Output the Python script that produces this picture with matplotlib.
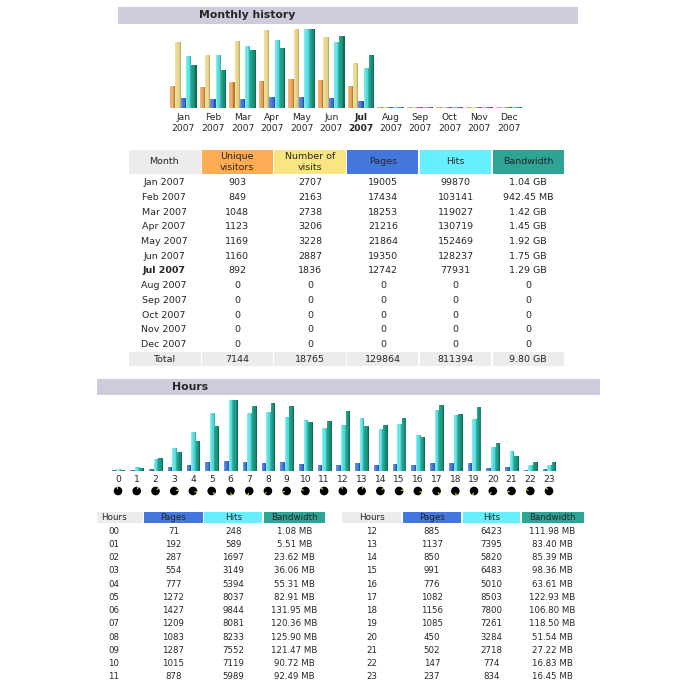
import numpy as np
import matplotlib
matplotlib.use('Agg')
import matplotlib.pyplot as plt
from matplotlib.patches import Circle, Wedge, Rectangle

plt.rcParams['font.family'] = 'DejaVu Sans'

# monthly history
months = ['Jan', 'Feb', 'Mar', 'Apr', 'May', 'Jun', 'Jul', 'Aug', 'Sep', 'Oct', 'Nov', 'Dec']
visitors = [903, 849, 1048, 1123, 1169, 1160, 892, 0, 0, 0, 0, 0]
visits = [2707, 2163, 2738, 3206, 3228, 2887, 1836, 0, 0, 0, 0, 0]
pages = [19005, 17434, 18253, 21216, 21864, 19350, 12742, 0, 0, 0, 0, 0]
hits = [99870, 103141, 119027, 130719, 152469, 128237, 77931, 0, 0, 0, 0, 0]
bw_labels = ['1.04 GB', '942.45 MB', '1.42 GB', '1.45 GB', '1.92 GB', '1.75 GB',
             '1.29 GB', '0', '0', '0', '0', '0']
bw_gb = [1.04, 0.92, 1.42, 1.45, 1.92, 1.75, 1.29, 0, 0, 0, 0, 0]
totals = ['Total', '7144', '18765', '129864', '811394', '9.80 GB']

# hours
h_pages = [71, 192, 287, 554, 777, 1272, 1427, 1209, 1083, 1287, 1015, 878,
           885, 1137, 850, 991, 776, 1082, 1156, 1085, 450, 502, 147, 237]
h_hits = [248, 589, 1697, 3149, 5394, 8037, 9844, 8081, 8233, 7552, 7119, 5989,
          6423, 7395, 5820, 6483, 5010, 8503, 7800, 7261, 3284, 2718, 774, 834]
h_bw = [1.08, 5.51, 23.62, 36.06, 55.31, 82.91, 131.95, 120.36, 125.90, 121.47, 90.72, 92.49,
        111.98, 83.40, 85.39, 98.36, 63.61, 122.93, 106.80, 118.50, 51.54, 27.22, 16.83, 16.45]

# left light -> right dark
ORANGE = ['#eeb878', '#ecb06c', '#e0a058', '#b47c38']
SAND = ['#eee0a0', '#ead994', '#e2d084', '#c0ac60']
BLUE = ['#6490e8', '#4f80e0', '#4070d0', '#2c54a8']
CYAN = ['#7eeef0', '#66e6ea', '#54d6da', '#38b0b4']
TEAL = ['#28a488', '#1e9c80', '#188c72', '#0f6c56']

HEAD_GREY = '#ececec'
HEAD_COLS = ['#ececec', '#ffad55', '#f9e682', '#4477dd', '#66f0ff', '#2ea495']
TXT = '#262626'


def shaded_bars(ax, x, frac, width, shades, min_frac):
    y = np.maximum(frac, min_frac)
    strips = [0.2, 0.3, 0.3, 0.2]
    left = x
    for s, col in zip(strips, shades):
        ax.bar(left, y, width * s, align='edge', color=col, linewidth=0)
        left = left + width * s


def chart_axes(fig, x0, x1, y_top, y_base):
    ax = fig.add_axes([x0 / 700, 1 - y_base / 700, (x1 - x0) / 700, (y_base - y_top) / 700])
    ax.axis('off')
    ax.set_ylim(0, 1)
    return ax


def centered_row(ax, xs, y, labels, size, weight='normal'):
    for x, lab in zip(xs, labels):
        ax.text(x, y, lab, ha='center', va='center', fontsize=size, color=TXT, fontweight=weight)


fig = plt.figure(figsize=(7, 7), dpi=100, facecolor='white')
page = fig.add_axes([0, 0, 1, 1])
page.set_xlim(0, 700)
page.set_ylim(700, 0)
page.axis('off')


def band(x0, x1, y0, y1, color):
    page.add_patch(Rectangle((x0, y0), x1 - x0, y1 - y0, facecolor=color, linewidth=0))


# section titles
band(118, 578, 7, 24, '#ccccdd')
page.text(199, 15.5, 'Monthly history', fontsize=7.8, fontweight='bold', va='center', color=TXT)
band(97, 600, 379, 395, '#ccccdd')
page.text(172, 387.5, 'Hours', fontsize=7.8, fontweight='bold', va='center', color=TXT)

# monthly bars
ax_m = chart_axes(fig, 170, 170 + 12 * 29.6, 29, 108)
ax_m.set_xlim(0, 12)
w_m = 5.3 / 29.6
xm = np.arange(12)
series_m = [(visitors, max(visits), ORANGE), (visits, max(visits), SAND),
            (pages, max(hits), BLUE), (hits, max(hits), CYAN), (bw_gb, max(bw_gb), TEAL)]
for k, (vals, top, shades) in enumerate(series_m):
    shaded_bars(ax_m, xm + k * w_m, np.array(vals) / top, w_m, shades, 1 / 79)

for i, m in enumerate(months):
    x = 183.3 + i * 29.6
    wt = 'bold' if m == 'Jul' else 'normal'
    page.text(x, 117.5, m, ha='center', va='center', fontsize=6.6, color=TXT, fontweight=wt)
    page.text(x, 128.5, '2007', ha='center', va='center', fontsize=6.6, color=TXT, fontweight=wt)

# monthly table
col_edges = [(129, 201), (202, 273), (274, 346), (347, 418), (420, 491), (493, 564)]
col_x = [164, 237.3, 310, 383, 455.7, 528.3]
heads = ['Month', 'Unique\nvisitors', 'Number of\nvisits', 'Pages', 'Hits', 'Bandwidth']
for (x0, x1), col in zip(col_edges, HEAD_COLS):
    band(x0, x1, 150, 174, col)
for x, h in zip(col_x, heads):
    page.text(x, 162, h, ha='center', va='center', fontsize=6.8, color=TXT, linespacing=1.15)

for i, m in enumerate(months):
    y = 182.7 + i * 14.7
    wt = 'bold' if m == 'Jul' else 'normal'
    page.text(col_x[0], y, f'{m} 2007', ha='center', va='center', fontsize=6.8, color=TXT, fontweight=wt)
    row = [visitors[i], visits[i], pages[i], hits[i], bw_labels[i]]
    centered_row(page, col_x[1:], y, row, 6.8)

for x0, x1 in col_edges:
    band(x0, x1, 352, 366, HEAD_GREY)
centered_row(page, col_x, 359.5, totals, 6.8)

# hourly bars
step = 18.74
ax_h = chart_axes(fig, 111.6, 111.6 + 24 * step, 400, 471)
ax_h.set_xlim(0, 24)
w_h = 4.6 / step
xh = np.arange(24)
series_h = [(h_pages, max(h_hits), BLUE), (h_hits, max(h_hits), CYAN), (h_bw, max(h_bw), TEAL)]
for k, (vals, top, shades) in enumerate(series_h):
    shaded_bars(ax_h, xh + k * w_h, np.array(vals) / top, w_h, shades, 1 / 71)

# hour labels and little clocks, yellow slice ends on the hour
for h in range(24):
    x = 118 + h * step
    page.text(x, 479.7, str(h), ha='center', va='center', fontsize=6.6, color=TXT)
    page.add_patch(Circle((x, 491), 4.3, facecolor='black', linewidth=0))
    end = (h % 12) * 30 - 90
    page.add_patch(Wedge((x, 491), 4.3, end - 24, end, width=2.6, facecolor='#d8c440', linewidth=0))

# hourly tables
hour_heads = ['Hours', 'Pages', 'Hits', 'Bandwidth']
hour_cols = [HEAD_COLS[0], HEAD_COLS[3], HEAD_COLS[4], HEAD_COLS[5]]
left_edges = [(97.3, 142.7), (144.3, 203), (204.3, 261.7), (263.7, 325.3)]
right_edges = [(342.3, 401), (402.7, 461.3), (463, 520), (522, 583.7)]
left_x = [113.7, 173.3, 233.3, 294.3]
right_x = [371.7, 432, 491.7, 552.3]

for edges, xs, first in [(left_edges, left_x, 0), (right_edges, right_x, 12)]:
    for (x0, x1), col in zip(edges, hour_cols):
        band(x0, x1, 511.7, 523.3, col)
    centered_row(page, xs, 517.7, hour_heads, 6.3)
    for r in range(12):
        h = first + r
        y = 531 + r * 13.27
        row = [f'{h:02d}', h_pages[h], h_hits[h], f'{h_bw[h]:.2f} MB']
        centered_row(page, xs, y, row, 6.2)

fig.savefig('out.png', dpi=100, facecolor='white')
